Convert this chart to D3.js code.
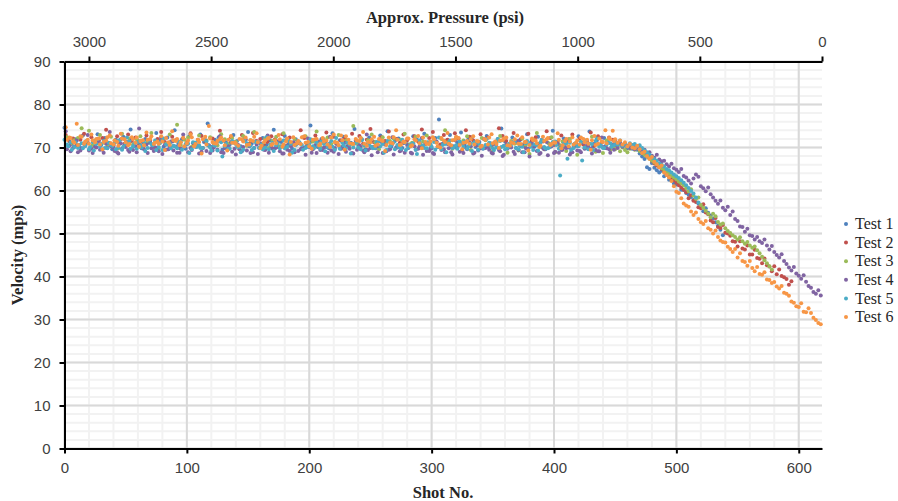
<!DOCTYPE html>
<html>
<head>
<meta charset="utf-8">
<script src="https://cdn.jsdelivr.net/npm/d3@7"></script>
<style>
  html, body { margin: 0; background: #fff; }
  svg { display: block; font-family: "Liberation Serif", serif; }
  .tick text { font-size: 15px; fill: #404040; }
</style>
</head>
<body>
<svg id="chart" width="898" height="501"></svg>
<script>
// velocity
// Flat: shot 0-447, one value per 3 shots. Drop: from shot 450, one value per 2 shots.
const test1Flat = [
  74.6,72.1,70.8,71.9,70.3,72.8,71.2,69.9,71.5,73.1,
  70.6,72.2,71.0,69.6,71.8,70.9,72.5,71.3,74.2,70.7,
  71.6,69.8,72.0,71.1,70.4,73.4,71.7,70.2,72.3,71.4,
  74.0,70.8,71.9,69.7,72.6,71.0,70.5,73.0,71.3,75.6,
  70.1,71.8,72.4,69.5,71.2,70.7,72.9,71.5,70.3,72.1,
  73.6,70.9,71.4,69.9,72.2,70.6,71.7,74.1,70.2,71.3,
  72.7,70.8,69.7,71.9,71.0,72.4,70.5,75.1,71.6,70.1,
  72.0,71.2,69.8,73.3,70.9,71.7,72.5,70.3,71.1,74.3,
  70.6,71.9,69.6,72.3,71.4,70.8,72.8,71.0,73.8,70.2,
  71.5,72.1,69.9,71.3,70.7,72.6,71.8,70.4,73.2,71.1,
  69.8,72.2,76.5,70.9,71.6,72.9,70.3,71.2,73.5,70.6,
  71.9,72.4,70.1,71.3,69.7,72.7,71.0,70.8,72.0,74.4,
  71.4,70.5,72.3,69.9,71.7,70.7,73.1,71.1,70.2,72.5,
  71.8,69.6,70.9,73.9,71.2,70.4,72.1,71.5,68.9,70.8,
  72.6,71.0,69.8,73.7,70.3,71.6,70.7,72.2,71.3,70.1
];
const test1Drop = [
  71.2,70.6,70.9,70.3,70.7,69.8,70.2,69.7,70.1,69.5,
  68.6,67.9,67.3,65.4,65.0,66.4,65.3,64.7,64.2,64.6,
  63.3,63.7,62.5,62.4,61.6,61.4,61.7,60.2,60.1,59.4,
  59.0,58.5,57.8,58.2,57.0,56.3,55.2,55.9,54.8,54.2,
  53.5,52.6,51.8,50.9,49.6
];
const test2Flat = [
  72.9,71.4,72.1,70.6,71.8,73.2,71.1,72.4,70.3,71.7,
  72.2,74.1,71.0,70.5,72.6,71.9,70.9,73.0,71.5,72.3,
  70.7,71.2,72.8,71.6,70.2,72.0,73.6,71.3,70.8,72.5,
  71.7,69.9,72.2,71.1,73.3,70.6,71.8,72.7,71.4,70.4,
  72.1,71.0,73.9,71.6,70.7,72.4,71.2,70.3,72.9,71.8,
  70.9,73.4,71.5,72.0,70.5,71.3,72.6,71.9,70.1,73.1,
  71.7,72.3,70.8,71.1,74.0,72.2,70.6,71.4,72.8,70.2,
  71.9,73.5,71.0,72.5,70.7,71.6,72.1,70.4,73.2,71.3,
  72.7,70.9,71.8,74.3,71.2,70.3,72.4,71.5,73.7,70.8,
  72.0,71.1,73.0,71.7,70.5,72.6,71.4,74.2,70.9,72.2,
  73.6,71.3,70.7,72.9,71.8,70.2,73.3,72.1,71.0,74.0,
  72.5,71.6,70.6,73.1,71.9,72.3,70.4,71.2,74.5,72.7,
  71.5,70.8,73.4,71.1,72.0,70.3,73.2,71.7,72.4,70.9,
  71.4,73.8,72.2,70.6,71.3,72.8,70.1,71.9,73.0,71.0,
  72.1,70.7,71.5,73.5,70.4,72.6,71.2,69.9,72.3,71.8
];
const test2Drop = [
  71.6,70.8,71.3,70.4,70.9,70.1,70.6,70.2,69.8,70.3,
  69.5,69.0,68.4,67.9,67.5,66.9,66.3,65.8,65.4,65.0,
  64.4,63.9,63.3,62.8,62.4,61.8,61.2,60.7,60.2,59.6,
  58.2,58.9,57.6,57.3,56.1,55.9,56.8,54.9,54.5,53.0,
  52.6,53.6,51.5,51.3,52.0,50.2,50.0,49.5,48.2,48.1,
  47.0,48.2,46.5,46.3,47.2,45.1,45.1,46.2,44.3,44.1,
  43.1,44.2,42.6,42.3,41.2,42.4,40.5,41.6,40.1,39.8,
  39.4,38.1,38.9
];
const test3Flat = [
  72.4,70.9,71.7,72.2,74.5,71.3,73.9,70.6,71.8,72.9,
  71.1,70.3,72.5,71.6,69.8,73.2,71.0,72.1,70.7,71.9,
  72.6,70.4,71.4,73.4,71.2,69.7,72.0,70.9,73.0,71.5,
  75.3,70.6,71.8,72.3,70.2,71.1,72.8,69.9,71.6,72.4,
  71.0,70.5,73.1,71.9,70.8,72.2,71.3,69.6,72.7,70.4,
  71.7,73.6,71.2,70.7,72.1,69.9,71.5,72.5,70.3,73.3,
  71.8,70.9,72.0,71.1,69.7,72.6,70.6,71.4,73.7,70.2,
  71.9,72.3,70.8,71.3,72.9,69.8,71.6,70.5,75.0,71.0,
  72.2,70.4,71.7,73.0,71.2,69.6,72.4,70.9,71.5,72.1,
  70.3,71.8,73.2,70.7,71.1,72.5,69.9,71.4,72.8,70.6,
  71.9,70.2,72.0,74.0,71.3,69.7,72.3,70.8,71.6,72.6,
  69.4,71.0,70.5,72.2,71.7,70.1,69.1,71.2,72.7,70.3,
  68.8,71.5,70.9,69.3,72.1,70.6,68.5,71.8,73.4,70.2,
  69.6,71.1,72.4,68.9,70.7,71.4,69.2,72.0,70.4,68.3,
  71.3,69.8,70.8,72.5,69.0,70.5,68.7,71.6,69.5,70.1
];
const test3Drop = [
  69.6,70.3,69.1,70.0,69.4,68.9,69.7,70.2,69.5,70.0,
  69.2,68.8,68.3,67.9,67.4,67.0,66.5,66.1,65.6,65.2,
  64.8,64.3,63.9,63.4,63.0,62.6,62.1,61.7,61.2,60.6,
  59.8,60.3,58.8,58.1,58.4,56.6,56.0,55.3,54.6,53.8,
  54.6,54.0,52.7,52.1,52.3,51.2,50.6,50.1,49.6,49.2,
  48.6,49.1,48.2,47.6,48.0,47.2,46.7,47.0,46.1,45.4,
  44.6,43.8,43.1,42.4,41.6
];
const test4Flat = [
  73.8,70.4,69.9,71.6,69.3,70.8,72.9,69.7,70.2,71.3,
  69.5,70.9,73.6,70.1,68.9,71.0,70.5,69.4,71.9,70.3,
  74.4,69.8,70.7,71.2,69.2,70.0,72.3,70.6,69.6,71.4,
  70.2,68.8,73.0,70.8,69.9,71.1,70.4,69.0,71.7,70.5,
  69.3,70.9,72.6,68.7,70.1,71.3,69.7,70.6,69.1,71.8,
  70.3,68.9,70.7,71.0,69.5,72.8,70.2,69.8,71.5,68.6,
  70.4,69.2,71.2,70.9,69.6,70.0,72.1,68.8,70.6,71.4,
  69.4,70.1,72.5,69.0,70.8,69.7,71.1,70.3,68.7,71.6,
  70.5,69.3,73.0,69.9,70.2,68.9,71.3,70.7,69.5,72.4,
  70.0,69.1,71.0,70.6,68.8,70.3,69.7,72.2,70.9,69.2,
  68.7,71.4,70.1,69.6,70.8,68.9,71.7,70.4,69.3,70.0,
  71.1,68.6,70.5,69.8,72.0,70.2,68.8,71.2,69.4,68.0,
  70.7,70.1,69.0,71.5,70.3,68.9,69.7,71.0,70.6,68.5,
  69.9,71.3,70.2,68.7,70.8,69.4,71.6,70.0,68.9,70.4,
  69.2,71.1,70.5,69.7,70.9,69.1,72.3,70.3,69.6,70.7
];
const test4Extra = [
  69.6,69.1,70.2,68.9,69.8,70.4,69.3,68.7,70.0,69.5,
  68.8,69.9,70.3,69.2,68.6,69.7,70.1,69.0,69.4,68.9,
  70.2,69.6,68.7,69.8,70.0,69.1,68.5,69.5,70.3,69.3,
  68.8,69.7,70.1,68.9,69.4,70.2,68.6,69.9,69.2,68.7,
  70.0,69.5,68.9,69.8,70.3,69.0,68.4,69.6,70.1,69.3,
  68.7,69.9,68.5,70.2,69.4,68.8,69.7,70.0,69.1,68.6,
  69.5,70.3,68.9,69.2,69.8,68.3,70.1,69.6,68.7,69.4,
  70.0,68.8,69.3,69.9,68.5,70.2,69.0,69.7,68.6,69.5,
  70.1,68.9,69.4,68.2,69.8,70.3,68.7,69.1,69.6,68.4,
  70.0,69.3,68.8,69.9,68.6,69.5,70.2,68.3,69.2,69.7,
  68.5,70.1,69.4,68.9,69.8,68.4,70.0,69.0,68.7,69.6,
  70.3,68.8,69.3,68.1,69.9,69.5,68.6,70.2,69.1,68.3,
  69.7,70.0,68.5,69.4,68.9,69.8,67.9,70.1,69.2,68.7,
  69.6,68.2,70.3,69.0,68.8,69.5,69.9,68.4,70.0,69.3,
  68.9,69.7,70.2,68.6,69.4,69.1,70.1,69.8,68.8,69.5
];
const test4Drop = [
  70.6,69.9,71.0,70.2,70.8,70.4,69.9,70.3,69.6,70.1,
  69.8,69.2,69.5,68.7,68.9,68.1,67.6,68.3,67.2,66.8,
  66.9,66.1,65.6,66.2,65.2,64.8,64.3,65.0,63.4,63.0,
  62.3,61.6,62.8,63.7,63.2,61.0,60.5,59.8,60.7,59.1,
  58.4,57.6,56.9,57.7,56.0,55.4,56.2,54.3,55.1,53.4,
  52.9,51.6,51.5,50.4,51.1,49.6,49.4,48.6,49.2,48.2,
  47.8,48.6,47.2,46.3,47.1,45.7,45.0,44.4,45.2,43.6,
  42.9,42.1,41.4,42.2,40.7,40.2,39.5,40.3,38.8,37.8,
  37.4,36.4,36.0,36.8,35.6
];
const test5Flat = [
  71.8,70.3,69.5,71.2,70.6,69.8,71.5,70.1,69.3,72.0,
  70.8,69.9,71.1,70.4,69.6,71.7,70.2,72.3,69.7,70.9,
  71.3,70.0,69.2,71.6,70.5,69.4,71.0,72.1,70.7,69.8,
  70.3,71.4,69.5,70.8,68.7,71.2,70.1,69.9,71.8,70.6,
  69.3,70.4,71.5,67.9,70.9,69.7,71.1,70.2,68.9,71.7,
  70.5,69.4,71.3,70.0,69.6,72.4,70.7,69.2,71.0,70.3,
  69.8,71.6,68.8,70.6,71.2,69.5,70.1,71.9,69.9,70.4,
  71.4,69.1,70.8,70.2,72.2,69.7,70.5,71.1,68.6,70.9,
  70.0,71.7,69.3,70.6,69.8,71.3,70.3,68.8,71.5,70.7,
  69.6,70.1,71.8,69.4,70.4,71.0,68.5,70.8,69.9,71.2,
  70.2,69.5,72.3,70.6,68.9,71.6,70.0,69.7,70.9,71.4,
  70.3,69.2,71.1,70.7,69.8,72.0,70.5,69.4,71.9,70.1,
  69.6,70.8,71.2,69.9,70.4,68.9,71.5,70.2,70.7,69.3,
  71.7,69.8,70.0,71.3,70.6,63.5,71.0,67.4,69.5,70.9,
  70.3,67.0,71.6,70.9,69.4,72.1,70.5,69.9,71.1,70.2
];
const test5Extra = [
  70.7,71.2,70.1,69.9,71.0,70.4,69.6,71.3,70.8,70.2,
  71.5,69.8,70.6,71.1,70.0,69.5,70.9,71.4,70.3,69.7,
  70.5,71.2,69.9,70.8,71.6,70.1,69.4,70.7,71.0,70.4,
  69.8,71.3,70.2,70.9,69.6,71.1,70.5,69.9,71.4,70.0,
  70.6,69.3,71.2,70.3,69.7,71.5,70.8,70.1,69.5,71.0,
  70.4,69.9,71.3,70.7,70.0,69.6,71.1,70.5,69.8,71.6,
  70.2,70.9,69.4,71.4,70.6,69.9,71.0,70.3,71.2,69.7,
  70.8,70.1,71.5,69.5,70.4,71.1,69.8,70.7,70.0,71.3,
  69.6,70.5,71.0,70.2,69.9,71.4,70.8,69.4,70.3,71.2,
  70.6,69.7,71.1,70.0,70.9,69.5,71.6,70.4,69.8,70.7,
  71.3,70.1,69.6,70.8,71.0,69.9,70.5,71.4,70.2,69.7,
  70.9,71.2,69.5,70.3,70.6,71.1,69.8,70.0,71.5,70.4,
  69.9,70.7,71.3,69.6,70.2,71.0,70.8,69.4,70.5,71.2,
  70.1,69.8,70.6,71.4,69.7,70.3,70.9,71.1,69.9,70.4,
  71.3,70.0,69.6,70.8,71.5,70.2,69.9,70.7,71.0,70.5
];
const test5Drop = [
  71.3,70.7,71.6,70.4,70.9,70.2,71.0,70.6,70.8,70.3,
  70.5,69.9,69.3,68.9,68.4,67.8,67.3,66.9,66.3,66.0,
  65.6,65.0,64.7,64.2,63.7,63.3,62.9,62.4,61.8,61.2,
  60.6,59.9,59.3,58.4,57.2
];
const test6Flat = [
  74.7,72.3,71.4,75.5,72.6,70.9,71.8,73.0,71.2,72.1,
  69.6,71.6,72.8,70.7,71.3,73.2,71.9,70.5,72.4,71.1,
  70.2,71.7,73.5,72.0,70.8,71.4,72.6,69.4,71.2,73.8,
  71.5,70.6,72.2,71.0,73.1,70.3,71.8,68.6,72.5,75.0,
  71.3,70.9,72.0,71.6,69.3,72.7,71.1,70.4,71.9,72.3,
  70.7,71.5,73.3,69.9,71.2,72.1,70.6,71.7,72.9,70.2,
  71.4,68.4,72.4,71.0,70.8,72.6,71.3,69.7,71.9,70.5,
  72.2,71.6,70.1,73.0,71.1,72.8,69.5,71.8,70.9,72.0,
  71.5,73.6,70.4,71.2,72.5,70.7,71.7,69.2,72.3,71.0,
  74.0,70.6,71.4,72.1,70.3,71.9,72.7,69.8,71.3,70.8,
  72.4,71.1,70.0,71.6,73.4,70.5,71.8,72.2,69.6,71.2,
  70.9,72.6,71.5,70.2,72.0,70.7,73.1,71.4,69.9,71.7,
  72.3,70.4,71.0,72.8,70.8,71.3,69.3,72.1,71.6,70.1,
  72.5,71.9,70.6,71.2,73.3,69.8,71.5,70.3,72.4,71.1,
  70.7,72.0,71.8,69.5,72.7,70.9,71.4,74.0,72.2,73.9
];
const test6Extra = [
  71.8,72.2,71.1,70.6,72.5,71.4,70.9,71.7,72.0,70.7,
  71.3,72.4,71.0,71.6,70.4,72.1,71.2,70.8,71.9,72.3,
  71.5,70.5,71.8,72.6,71.1,70.9,71.4,72.2,70.6,71.7,
  72.0,71.2,70.3,71.6,72.4,70.8,71.3,71.9,70.7,72.1,
  71.0,71.5,72.3,70.5,71.8,71.1,70.9,72.0,71.4,70.6,
  71.7,72.5,71.2,70.4,71.6,72.2,70.8,71.0,71.9,70.7,
  72.1,71.3,70.6,71.5,72.4,71.1,70.3,71.8,72.0,70.9,
  71.4,70.7,72.3,71.2,70.5,71.7,72.6,71.0,70.8,71.6,
  72.2,70.9,71.3,71.9,70.4,72.0,71.5,70.6,71.1,72.4,
  71.8,70.7,71.2,72.1,70.5,71.6,71.0,72.3,70.8,71.4,
  71.9,70.3,72.2,71.3,70.9,71.7,72.5,70.6,71.1,71.5,
  72.0,70.7,71.4,70.4,71.8,72.3,71.0,70.8,71.6,72.1,
  70.5,71.2,71.9,70.9,72.4,71.3,70.6,71.7,71.0,70.4,
  71.5,72.2,70.8,71.1,71.8,70.5,72.0,71.4,70.7,71.6,
  72.3,71.2,70.9,71.7,70.6,72.1,71.3,71.0,71.9,71.5
];
const test6Drop = [
  71.9,71.1,71.6,70.7,71.2,70.3,70.8,70.0,69.8,70.4,
  69.6,68.7,69.0,68.0,67.4,67.8,66.7,66.1,65.4,65.8,
  64.2,63.6,63.0,62.2,61.0,59.7,59.4,58.2,57.0,56.5,
  56.2,55.1,54.3,54.9,53.4,52.6,52.2,52.9,51.2,50.9,
  50.0,50.7,49.2,48.4,48.0,47.9,46.9,46.4,45.7,46.4,
  44.4,45.4,43.6,43.4,42.5,43.6,42.0,41.2,42.2,40.6,
  40.4,41.0,39.3,39.2,38.5,38.7,37.7,37.2,37.8,36.2,
  36.0,35.5,34.2,33.9,33.1,32.9,33.8,31.8,31.7,32.6,
  31.5,30.4,29.9,29.2,28.9
];
const seriesNames = ["Test 1", "Test 2", "Test 3", "Test 4", "Test 5", "Test 6"];
const seriesColors = ["#4f81bd", "#c0504d", "#9bbb59", "#8064a2", "#4bacc6", "#f79646"];
const flatValues = [test1Flat, test2Flat, test3Flat, test4Flat, test5Flat, test6Flat];
const extraValues = [[], [], [], test4Extra, test5Extra, test6Extra];
const dropValues = [test1Drop, test2Drop, test3Drop, test4Drop, test5Drop, test6Drop];
const flatStep = 3;
const dropStep = 2;
const dropStart = 450;
const flatOffset = [0, 1, 2, 1, 0, 1];
const extraOffset = [0, 0, 0, 2, 2, 2];
const shotTicks = [0, 100, 200, 300, 400, 500, 600];
const pressureTicks = [3000, 2500, 2000, 1500, 1000, 500, 0];
const velocityTicks = [0, 10, 20, 30, 40, 50, 60, 70, 80, 90];

const svg = d3.select("#chart");
const plotLeft = 64.5, plotRight = 822, plotTop = 61.5, plotBottom = 448.5;

const x = d3.scaleLinear().domain([0, 619]).range([plotLeft, plotRight]);
const xTop = d3.scaleLinear().domain([3100, 0]).range([plotLeft, plotRight]);
const y = d3.scaleLinear().domain([0, 90]).range([plotBottom, plotTop]);

// gridlines, minor first so the major ones sit on top
const grid = svg.append("g");
const minorX = d3.range(0, 620, 20), minorY = d3.range(0, 91, 2);
grid.selectAll(".minor-x").data(minorX).join("line")
  .attr("x1", d => x(d)).attr("x2", d => x(d)).attr("y1", plotTop).attr("y2", plotBottom)
  .attr("stroke", "#f2f2f2").attr("stroke-width", 2);
grid.selectAll(".minor-y").data(minorY).join("line")
  .attr("x1", plotLeft).attr("x2", plotRight).attr("y1", d => y(d)).attr("y2", d => y(d))
  .attr("stroke", "#f2f2f2").attr("stroke-width", 2);
grid.selectAll(".major-x").data(shotTicks).join("line")
  .attr("x1", d => x(d)).attr("x2", d => x(d)).attr("y1", plotTop).attr("y2", plotBottom)
  .attr("stroke", "#d9d9d9").attr("stroke-width", 2);
grid.selectAll(".major-y").data(velocityTicks).join("line")
  .attr("x1", plotLeft).attr("x2", plotRight).attr("y1", d => y(d)).attr("y2", d => y(d))
  .attr("stroke", "#d9d9d9").attr("stroke-width", 2);

// points, Test 6 ends up on top
seriesNames.forEach((name, s) => {
  const points = flatValues[s].map((v, i) => [flatOffset[s] + i * flatStep, v])
    .concat(extraValues[s].map((v, i) => [extraOffset[s] + i * flatStep, v]))
    .concat(dropValues[s].map((v, i) => [dropStart + i * dropStep, v]));
  svg.append("g").selectAll("circle").data(points).join("circle")
    .attr("cx", d => x(d[0]))
    .attr("cy", d => y(d[1]))
    .attr("r", 2)
    .attr("fill", seriesColors[s]);
});

// axes
const styleAxis = g => {
  g.selectAll(".domain").attr("stroke", "#000").attr("stroke-width", 2);
  g.selectAll(".tick line").attr("stroke", "#000").attr("stroke-width", 2);
};
svg.append("g").attr("transform", `translate(0,${plotBottom})`)
  .call(d3.axisBottom(x).tickValues(shotTicks).tickSize(5).tickSizeOuter(0).tickPadding(9))
  .call(styleAxis);
svg.append("g").attr("transform", `translate(0,${plotTop})`)
  .call(d3.axisTop(xTop).tickValues(pressureTicks).tickFormat(d3.format("d")).tickSize(5).tickSizeOuter(0).tickPadding(10))
  .call(styleAxis);
svg.append("g").attr("transform", `translate(${plotLeft},0)`)
  .call(d3.axisLeft(y).tickValues(velocityTicks).tickSize(5).tickSizeOuter(0).tickPadding(9))
  .call(styleAxis);

// titles
const title = (text, px, py, rotate) => svg.append("text")
  .attr("transform", `translate(${px},${py})` + (rotate ? " rotate(-90)" : ""))
  .attr("text-anchor", "middle")
  .attr("font-size", 16.5).attr("font-weight", "bold").attr("fill", "#262626")
  .text(text);
title("Approx. Pressure (psi)", 445, 23);
title("Shot No.", 443, 498);
title("Velocity (mps)", 23, 255, true);

// legend
const legendY = d3.scaleLinear().domain([0, 5]).range([224, 317]);
const legend = svg.append("g").selectAll("g").data(seriesNames).join("g")
  .attr("transform", (d, i) => `translate(846,${legendY(i)})`);
legend.append("circle").attr("r", 2).attr("fill", (d, i) => seriesColors[i]);
legend.append("text").attr("x", 9).attr("dy", "0.33em")
  .attr("font-size", 16).attr("fill", "#262626").text(d => d);
</script>
</body>
</html>
